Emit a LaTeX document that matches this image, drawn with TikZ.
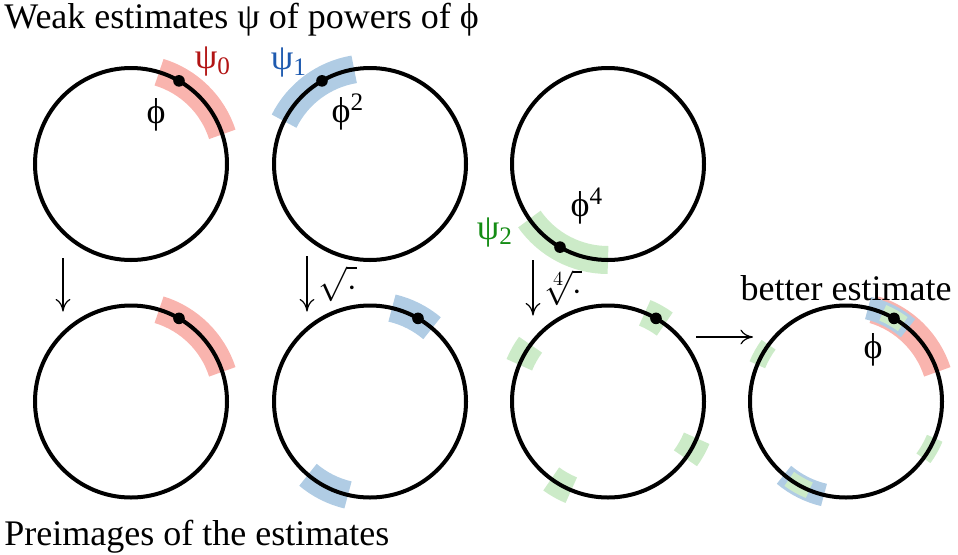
\documentclass[tikz,border=0pt]{standalone}
\usepackage{fontspec}
\setmainfont{Liberation Serif}
\usepackage{tikz}
\usetikzlibrary{
  arrows.meta,
  backgrounds,
  calc,
  positioning
}
\definecolor{bandred}{RGB}{249,180,174}
\definecolor{bandblue}{RGB}{176,204,228}
\definecolor{bandgreen}{RGB}{204,235,200}
\definecolor{psired}{RGB}{178,20,20}
\definecolor{psiblue}{RGB}{30,90,175}
\definecolor{psigreen}{RGB}{20,140,20}
\tikzset{
  ring/.style={
    circle,
    draw=black,
    line width=2pt,
    minimum size=96pt,
    inner sep=0pt,
    outer sep=0pt
  },
  band/.style={ draw=#1, line width=14pt },
  dot/.style={
    circle,
    fill=black,
    inner sep=0pt,
    minimum size=5.8pt
  },
  lbl/.style={ font=\fontsize{18}{21}\selectfont, inner sep=1pt },
  rootlbl/.style={ font=\LARGE, inner sep=1pt },
  maparrow/.style={
    -{To[length=2.2mm,width=2.6mm]},
    line width=0.6pt
  }
}

\begin{document}
\begin{tikzpicture}[x=0.5pt,y=0.5pt]
\useasboundingbox (0,0) rectangle (958,554);

% circles
\node[ring] (t1) at (131,390) {};
\node[ring] (t2) at (370,390) {};
\node[ring] (t3) at (608,390) {};
\node[ring] (b1) at (131,152.5) {};
\node[ring] (b2) at (370,152.5) {};
\node[ring] (b3) at (608,152.5) {};
\node[ring] (b4) at (846,152.5) {};

% estimate bands
\begin{scope}[on background layer]
  \draw[band=bandred] ([shift={(18:48pt)}]t1.center) arc[start angle=18, end angle=73, radius=48pt];
  \draw[band=bandblue] ([shift={(99.5:48pt)}]t2.center) arc[start angle=99.5, end angle=153.5, radius=48pt];
  \draw[band=bandgreen] ([shift={(215:48pt)}]t3.center) arc[start angle=215, end angle=270, radius=48pt];
  \draw[band=bandred] ([shift={(18:48pt)}]b1.center) arc[start angle=18, end angle=73, radius=48pt];
  \foreach \k in {0,180}
    \draw[band=bandblue] ([shift={(49.75+\k:48pt)}]b2.center)
      arc[start angle=49.75+\k, end angle=76.75+\k, radius=48pt];
  \foreach \k in {0,90,180,270}
    \draw[band=bandgreen] ([shift={(53.75+\k:48pt)}]b3.center)
      arc[start angle=53.75+\k, end angle=67.5+\k, radius=48pt];
  % combined
  \draw[band=bandred] ([shift={(18:48pt)}]b4.center) arc[start angle=18, end angle=73, radius=48pt];
  \foreach \k in {0,180}
    \draw[band=bandblue, line width=11.5pt] ([shift={(49.75+\k:48pt)}]b4.center)
      arc[start angle=49.75+\k, end angle=76.75+\k, radius=48pt];
  \foreach \k in {0,90,180,270}
    \draw[band=bandgreen, line width=8.5pt] ([shift={(53.75+\k:48pt)}]b4.center)
      arc[start angle=53.75+\k, end angle=67.5+\k, radius=48pt];
\end{scope}

% points
\node[dot] (p0) at (t1.60) {};
\node[dot] (p1) at (t2.120) {};
\node[dot] (p2) at (t3.240) {};
\node[dot] (q1) at (b1.60) {};
\node[dot] (q2) at (b2.60) {};
\node[dot] (q3) at (b3.60) {};
\node[dot] (q4) at (b4.60) {};

% labels
\node[lbl] (phi0) at (156,439) {ϕ};
\node[lbl, text=psired] (psi0) at (213,492) {ψ\textsubscript{0}};
\node[lbl] (phi2) at (348,442) {ϕ\textsuperscript{2}};
\node[lbl, text=psiblue] (psi1) at (289,491) {ψ\textsubscript{1}};
\node[lbl] (phi4) at (587,348) {ϕ\textsuperscript{4}};
\node[lbl, text=psigreen] (psi2) at (495,322) {ψ\textsubscript{2}};
\node[lbl] (phib) at (873,204) {ϕ};
\node[lbl, above=1pt of b4] (better) {better estimate};

% maps
\draw[maparrow] ([xshift=-34pt,yshift=1pt]t1.south) -- ([xshift=-34pt,yshift=-3pt]b1.north);
\draw[maparrow] ([xshift=-31.5pt,yshift=2pt]t2.south) -- ([xshift=-31.5pt,yshift=-3pt]b2.north)
  node[midway, right=4.5pt, rootlbl] {$\sqrt{\vphantom{1}\cdot}$};
\draw[maparrow] ([xshift=-37.5pt,yshift=0pt]t3.south) -- ([xshift=-37.5pt,yshift=-5pt]b3.north)
  node[midway, right=4pt, rootlbl] {$\sqrt[4]{\vphantom{1}\cdot}$};
\draw[maparrow] ($(b3.east)+(-4pt,32.25pt)$) -- ($(b4.west)+(1.5pt,32.25pt)$);

% titles
\node[lbl, anchor=base west, inner sep=0pt] (top) at (4,526) {Weak estimates ψ of powers of ϕ};
\node[lbl, anchor=base west, inner sep=0pt] (bottom) at (4,9) {Preimages of the estimates};
\end{tikzpicture}
\end{document}
